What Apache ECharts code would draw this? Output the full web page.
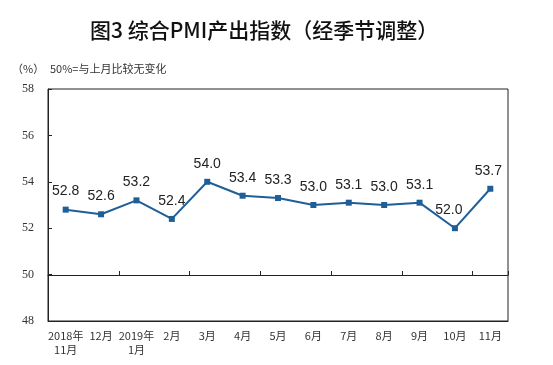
<!DOCTYPE html>
<html><head><meta charset="utf-8">
<script src="https://cdn.jsdelivr.net/npm/echarts@6/dist/echarts.min.js"></script>
<style>html,body{margin:0;padding:0;background:#fff}#c{width:553px;height:365px}</style>
</head><body><div id="c"></div>
<script>
var categories = ['2018年\n11月','12月','2019年\n1月','2月','3月','4月','5月','6月','7月','8月','9月','10月','11月'];
var values = [52.8, 52.6, 53.2, 52.4, 54.0, 53.4, 53.3, 53.0, 53.1, 53.0, 53.1, 52.0, 53.7];
var yTicks = {min: 48, max: 58, interval: 2};
var titleText = '图3 综合PMI产出指数（经季节调整）';
var unitText = '（%）';
var noteText = '50%=与上月比较无变化';

var chart = echarts.init(document.getElementById('c'));
var lineColor = '#1f5f98';
var seriesData = values.map(function(v, i){
  var d = {value: v};
  if (i === 11) d.label = {offset: [-6, 0]};
  if (i === 12) d.label = {offset: [-2, 0]};
  return d;
});
chart.setOption({
  animation: false,
  backgroundColor: '#fff',
  graphic: [
    {type:'text', left: 90, top: 20, style:{text: titleText, font: '500 21px "Noto Sans CJK SC"', fill:'#111'}},
    {type:'text', left: 12, top: 63, style:{text: unitText, font: '11px "Noto Sans CJK SC"', fill:'#333'}},
    {type:'text', left: 50, top: 63, style:{text: noteText, font: '11px "Noto Sans CJK SC"', fill:'#333'}}
  ],
  grid: [
    {left: 48, right: 45, top: 89, bottom: 44, show: true, borderColor: '#222', borderWidth: 1},
    {left: 48, right: 45, top: 89, bottom: 90, show: false}
  ],
  xAxis: [
    {type:'category', data: categories, gridIndex: 0, boundaryGap: true,
     axisLine:{show:true, lineStyle:{color:'#222'}}, axisTick:{show:false},
     axisLabel:{color:'#333', fontSize: 11, fontFamily:'"Noto Sans CJK SC"', margin: 8, lineHeight: 14, interval: 0}},
    {type:'category', data: categories, gridIndex: 1, boundaryGap: true,
     axisLine:{show:true, lineStyle:{color:'#222', width:1}},
     axisTick:{show:true, inside:true, length:4, lineStyle:{color:'#222'}},
     axisLabel:{show:false}}
  ],
  yAxis: [
    {type:'value', gridIndex:0, min: yTicks.min, max: yTicks.max, interval: yTicks.interval,
     splitLine:{show:false}, axisLine:{show:true, lineStyle:{color:'#222'}},
     axisTick:{show:true, inside:true, length:4, lineStyle:{color:'#222'}},
     axisLabel:{color:'#333', fontSize: 12, fontFamily:'"Liberation Serif"', margin: 14}},
    {type:'value', gridIndex:1, show:false, min: 0, max: 1}
  ],
  series: [{
    type:'line', xAxisIndex:0, yAxisIndex:0, data: seriesData,
    symbol:'rect', symbolSize: 6,
    lineStyle:{color: lineColor, width: 2},
    itemStyle:{color: lineColor},
    label:{show:true, position:'top', distance: 8, color:'#222', fontSize: 14, fontFamily:'"Liberation Sans"',
      formatter: function(p){ return p.value.toFixed(1); }}
  }]
});
</script></body></html>
